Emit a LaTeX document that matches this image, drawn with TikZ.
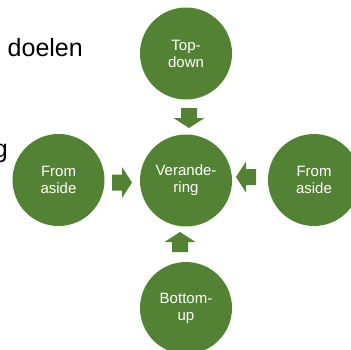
\documentclass[tikz,border=0pt]{standalone}
\usepackage{fontspec}
\setmainfont{Liberation Sans}
\definecolor{leaf}{RGB}{84,130,53}
\begin{document}
\begin{tikzpicture}[x=1pt,y=-1pt,
  bubble/.style={circle, fill=leaf, minimum size=92pt, inner sep=0pt,
    text=white, align=center, font=\fontsize{15}{17}\selectfont},
  backtext/.style={font=\fontsize{25}{29}\selectfont, anchor=base east, inner sep=0pt},
  blockarrow/.pic={\fill[leaf] (-10,-8) -- (0,-8) -- (0,-15.5) -- (10,0)
    -- (0,15.5) -- (0,8) -- (-10,8) -- cycle;}
]
\useasboundingbox (0,0) rectangle (351,349);
\clip (0,0) rectangle (351,349);

% words of the slide text behind the diagram
\node[backtext] (goals) at (83,56) {doelen};
\node[backtext] (tail) at (8,157) {g};

% the five circles
\node[bubble] (core) at (186,180.5) {Verande-\\ring};
\node[bubble] (top) at (186,53.5) {Top-\\down};
\node[bubble] (left) at (58.5,180) {From\\aside};
\node[bubble] (right) at (314,180) {From\\aside};
\node[bubble] (bottom) at (186,308) {Bottom-\\up};

% block arrows pointing at the centre
\pic[rotate=-90] at (189,118) {blockarrow};
\pic[rotate=90] at (180,242) {blockarrow};
\pic at (122,182.5) {blockarrow};
\pic[rotate=180] at (246,177) {blockarrow};
\end{tikzpicture}
\end{document}
